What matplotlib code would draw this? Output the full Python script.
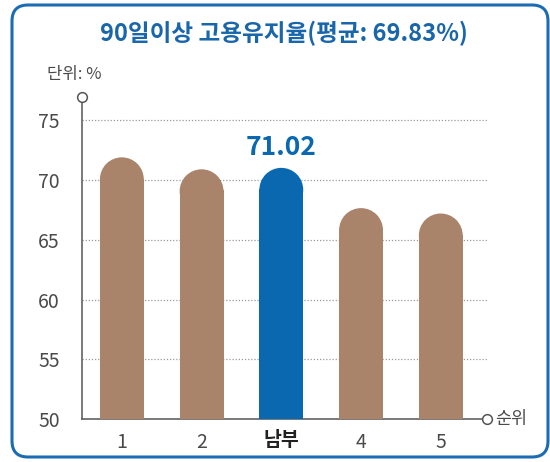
import matplotlib.pyplot as plt
from matplotlib.patches import Ellipse, FancyBboxPatch

plt.rcParams['font.family'] = ['Noto Sans CJK KR', 'DejaVu Sans']

# data
labels = ['1', '2', '남부', '4', '5']
values = [71.9, 70.9, 71.02, 67.65, 67.2]
highlight = 2
title = '90일이상 고용유지율(평균: 69.83%)'

brown = '#aa836b'
blue = '#0a68b0'
grid_c = '#9a9a9a'
text_c = '#4a4a4a'

fig = plt.figure(figsize=(5.5, 4.62), dpi=100)
fig.patch.set_facecolor('white')

# outer rounded frame
frame = FancyBboxPatch((0.12, 0.05), 5.36, 4.52, boxstyle='round,pad=0,rounding_size=0.16',
                       transform=fig.dpi_scale_trans, facecolor='white',
                       edgecolor='#1c6cb3', linewidth=2.2, zorder=-10)
fig.patches.append(frame)

ax = fig.add_axes([82 / 550, 1 - 419 / 462, (487 - 82) / 550, (419 - 97) / 462])
ax.set_zorder(2)
ax.set_facecolor('none')
ymin, ymax = 50, 76.95
ax.set_ylim(ymin, ymax)
ax.set_xlim(-0.5, 4.58)

# px per unit to make semicircle caps
bw = 0.55
px_per_x = (487 - 82) / (4.58 + 0.5)
px_per_y = (419 - 97) / (ymax - ymin)
ry = bw / 2 * px_per_x / px_per_y

for i, v in enumerate(values):
    c = blue if i == highlight else brown
    ax.bar(i, v - ry - ymin + 0.06, bottom=ymin, width=bw, color=c, zorder=3, linewidth=0)
    ax.add_patch(Ellipse((i, v - ry), bw, 2 * ry, facecolor=c, edgecolor='none', zorder=4))

ax.annotate(f'{values[highlight]:.2f}', (highlight, values[highlight]), xytext=(0, 15),
            textcoords='offset points', ha='center', va='center', fontsize=19,
            fontweight='bold', color=blue)

ax.set_yticks([50, 55, 60, 65, 70, 75])
for y in [55, 60, 65, 70, 75]:
    ax.axhline(y, color=grid_c, linestyle=(0, (1, 1.5)), linewidth=0.9, zorder=1)

ax.set_xticks(range(len(labels)))
ax.set_xticklabels(labels)
for i, t in enumerate(ax.get_xticklabels()):
    if i == highlight:
        t.set_fontweight('bold')
        t.set_color('#222222')
    else:
        t.set_color(text_c)
ax.tick_params(axis='x', length=0, pad=9, labelsize=14)
ax.tick_params(axis='y', length=0, pad=16, labelsize=14, labelcolor=text_c)

for s in ['top', 'right']:
    ax.spines[s].set_visible(False)
for s in ['left', 'bottom']:
    ax.spines[s].set_color('#555555')
    ax.spines[s].set_linewidth(1.1)

# hollow circle ends of axes
ax.plot([-0.5], [ymax], marker='o', ms=7, mfc='white', mec='#555555', mew=1.1,
        clip_on=False, zorder=5)
ax.plot([4.58], [ymin], marker='o', ms=7, mfc='white', mec='#555555', mew=1.1,
        clip_on=False, zorder=5)

fig.text(495 / 550, 1 - 419 / 462, '순위', ha='left', va='center', fontsize=12.5, color=text_c)
fig.text(47 / 550, 1 - 75 / 462, '단위: %', ha='left', va='center', fontsize=12, color=text_c)
fig.text(284 / 550, 1 - 33 / 462, title, ha='center', va='center', fontsize=17,
         fontweight='bold', color='#1a66ab')

fig.savefig('out.png', dpi=100)
